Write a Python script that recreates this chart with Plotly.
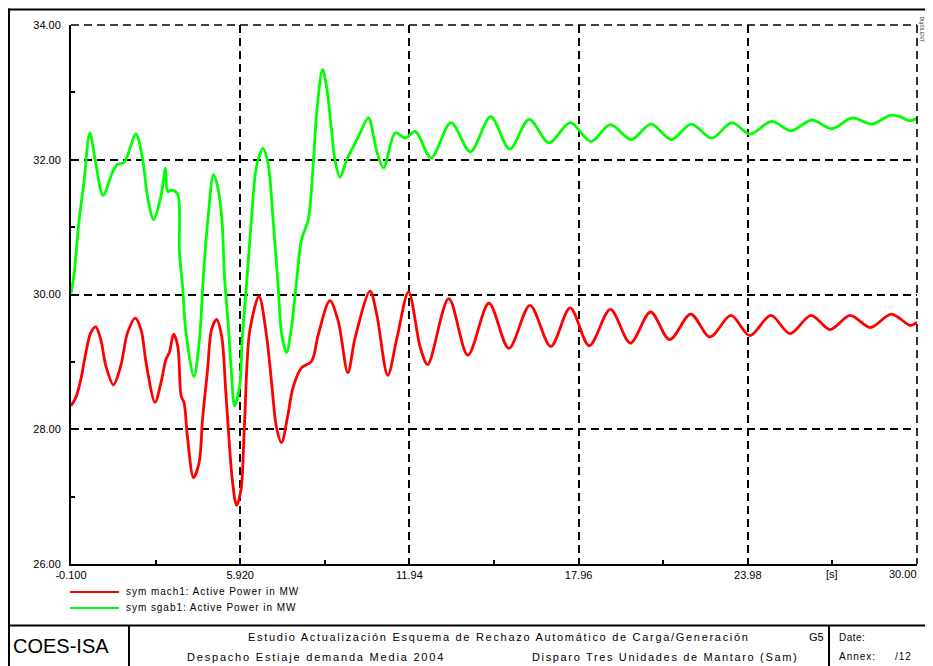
import plotly.graph_objects as go

# ---------------- data ----------------
t_mach1 = [-0.1, 0.07, 0.25, 0.43, 0.60, 0.78, 0.96, 1.14, 1.41, 1.67, 1.91, 2.19, 2.39, 2.59,
           2.89, 3.10, 3.28, 3.40, 3.55, 3.70, 3.82, 3.92, 4.04, 4.26, 4.46, 4.58, 4.76, 4.90,
           5.08, 5.26, 5.41, 5.53, 5.65, 5.79, 5.95, 6.07, 6.26, 6.59, 6.85, 7.03, 7.21, 7.39,
           7.62, 7.80, 8.10, 8.46, 8.70, 9.11, 9.41, 9.75, 10.01, 10.54, 10.78, 11.17, 11.50,
           11.91, 12.33, 12.59, 13.34, 14.02, 14.77, 15.48, 16.23, 16.97, 17.66, 18.34, 19.09,
           19.80, 20.52, 21.20, 21.95, 22.63, 23.38, 24.05, 24.80, 25.48, 26.23, 26.91, 27.62,
           28.34, 29.09, 29.77, 30.0]
p_mach1 = [28.35, 28.47, 28.74, 29.14, 29.43, 29.52, 29.33, 28.94, 28.66, 28.94, 29.43, 29.65,
           29.48, 28.94, 28.40, 28.69, 29.04, 29.14, 29.41, 29.23, 28.49, 28.40, 27.90, 27.28,
           27.51, 28.15, 28.89, 29.48, 29.63, 29.38, 28.54, 27.80, 27.21, 26.87, 27.11, 28.05,
           29.46, 29.97, 29.41, 28.72, 28.03, 27.80, 28.22, 28.62, 28.91, 29.01, 29.41, 29.91,
           29.60, 28.84, 29.36, 30.05, 29.70, 28.80, 29.36, 30.04, 29.21, 28.96, 29.94, 29.10,
           29.87, 29.20, 29.84, 29.23, 29.80, 29.24, 29.78, 29.28, 29.74, 29.33, 29.71, 29.37,
           29.69, 29.39, 29.69, 29.42, 29.69, 29.48, 29.69, 29.51, 29.71, 29.54, 29.59]

t_sgab1 = [-0.1, 0.0, 0.19, 0.36, 0.57, 0.78, 1.04, 1.37, 1.55, 1.79, 2.21, 2.45, 2.62, 2.84,
           3.10, 3.26, 3.34, 3.52, 3.70, 3.76, 3.87, 3.99, 4.27, 4.47, 4.61, 4.77, 4.97, 5.12,
           5.27, 5.36, 5.48, 5.60, 5.72, 5.90, 5.99, 6.14, 6.32, 6.50, 6.73, 6.91, 7.09, 7.27,
           7.39, 7.57, 7.75, 7.93, 8.10, 8.34, 8.52, 8.64, 8.85, 8.99, 9.17, 9.29, 9.47, 9.71,
           9.95, 10.19, 10.48, 10.78, 11.02, 11.44, 11.79, 12.15, 12.71, 13.42, 14.11, 14.83,
           15.51, 16.20, 16.91, 17.66, 18.40, 19.09, 19.83, 20.54, 21.26, 21.97, 22.69, 23.42,
           24.05, 24.83, 25.52, 26.26, 26.97, 27.69, 28.40, 29.05, 29.40, 29.71, 30.0]
p_sgab1 = [30.02, 30.27, 31.11, 31.66, 32.40, 31.95, 31.47, 31.81, 31.93, 31.96, 32.38, 32.00,
           31.46, 31.11, 31.46, 31.87, 31.53, 31.55, 31.48, 30.62, 30.12, 29.44, 28.78, 29.33,
           30.27, 31.11, 31.78, 31.60, 31.11, 30.27, 29.63, 28.89, 28.35, 28.64, 29.33, 30.12,
           31.11, 31.90, 32.17, 31.95, 31.11, 30.12, 29.43, 29.14, 29.53, 30.22, 30.81, 31.11,
           31.95, 32.69, 33.34, 33.09, 32.44, 32.00, 31.74, 32.00, 32.20, 32.40, 32.62, 32.12,
           31.88, 32.40, 32.32, 32.42, 32.03, 32.55, 32.12, 32.64, 32.16, 32.60, 32.25, 32.55,
           32.27, 32.52, 32.30, 32.53, 32.30, 32.53, 32.32, 32.55, 32.38, 32.57, 32.43, 32.59,
           32.46, 32.62, 32.53, 32.66, 32.64, 32.58, 32.61]

series_names = ["sym mach1: Active Power in MW", "sym sgab1: Active Power in MW"]
series_colors = ["#ff0000", "#00ff00"]

x_tick_vals = [-0.1, 5.92, 11.94, 17.96, 23.98, 30.0]
x_tick_text = ["-0.100", "5.920", "11.94", "17.96", "23.98", "30.00"]
x_minor_vals = [2.91, 8.93, 14.95, 20.97, 26.99]
x_unit_label = "[s]"
y_tick_vals = [26, 28, 30, 32, 34]
y_tick_text = ["26.00", "28.00", "30.00", "32.00", "34.00"]
y_minor_vals = [27, 29, 31, 33]

footer_company = "COES-ISA"
footer_title = "Estudio Actualización Esquema de Rechazo Automático de Carga/Generación"
footer_case = "Despacho Estiaje demanda Media 2004"
footer_event = "Disparo Tres Unidades de Mantaro (Sam)"
footer_code = "G5"
footer_date = "Date:"
footer_annex = "Annex: /12"
brand = "DIgSILENT"

# ---------------- layout geometry ----------------
# the page body adds an 8px offset; page pixel p -> figure pixel p - OFF
OFF = 8
W, H = 933 - OFF, 666 - OFF
PLOT_X0, PLOT_X1, PLOT_Y0, PLOT_Y1 = 71, 917, 24.5, 564.5  # page pixels
L = PLOT_X0 - OFF
T = PLOT_Y0 - OFF
R = W - (PLOT_X1 - OFF)
B = H - (PLOT_Y1 - OFF)
PW, PH = W - L - R, H - T - B
FONT = "Liberation Sans, Arial, sans-serif"


def fx(px):
    return (px - OFF - L) / PW


def fy(py):
    return (H - B - (py - OFF)) / PH


def spaced(text, ls, ws=None):
    style = "letter-spacing:%.2fpx" % ls
    if ws is not None:
        style += ";word-spacing:%.2fpx" % ws
    return '<span style="%s">%s</span>' % (style, text)


fig = go.Figure()
for t, p, name, col in [(t_mach1, p_mach1, series_names[0], series_colors[0]),
                        (t_sgab1, p_sgab1, series_names[1], series_colors[1])]:
    fig.add_trace(go.Scatter(x=t, y=p, mode="lines", name=name,
                             line=dict(color=col, width=2.8, shape="spline", smoothing=0.9),
                             showlegend=False))

grid = dict(showgrid=True, gridcolor="black", gridwidth=1.6, griddash="8px,5px",
            zeroline=False, showline=True, linecolor="black", linewidth=2,
            ticks="", tickfont=dict(family=FONT, size=11, color="black"))

# the last x label is drawn separately (shifted left so it stays inside the page)
x_axis_text = x_tick_text[:-1] + [""]
fig.update_xaxes(range=[-0.1, 30.0], tickmode="array", tickvals=x_tick_vals,
                 ticktext=x_axis_text, ticklabelstandoff=0,
                 minor=dict(tickmode="array", tickvals=x_minor_vals, ticks="inside",
                            ticklen=4, tickcolor="black", tickwidth=1.5, showgrid=False),
                 **grid)
fig.update_yaxes(range=[26, 34], tickmode="array", tickvals=y_tick_vals,
                 ticktext=y_tick_text, ticklabelstandoff=6,
                 minor=dict(tickmode="array", tickvals=y_minor_vals, ticks="inside",
                            ticklen=4, tickcolor="black", tickwidth=1.5, showgrid=False),
                 **grid)

shapes = []
dash = dict(color="black", width=1.6, dash="8px,5px")
shapes.append(dict(type="line", xref="paper", yref="paper", x0=0, x1=1, y0=1, y1=1, line=dash))
shapes.append(dict(type="line", xref="paper", yref="paper", x0=1, x1=1, y0=1, y1=0, line=dash))
solid = dict(color="black", width=2)
# page frame
shapes.append(dict(type="line", xref="paper", yref="paper", x0=fx(8), x1=fx(940), y0=fy(9), y1=fy(9), line=solid))
shapes.append(dict(type="line", xref="paper", yref="paper", x0=fx(9), x1=fx(9), y0=fy(8), y1=fy(670), line=solid))
# title block
shapes.append(dict(type="line", xref="paper", yref="paper", x0=fx(8), x1=fx(940), y0=fy(626), y1=fy(626), line=solid))
shapes.append(dict(type="line", xref="paper", yref="paper", x0=fx(129), x1=fx(129), y0=fy(626), y1=fy(670), line=solid))
shapes.append(dict(type="line", xref="paper", yref="paper", x0=fx(829), x1=fx(829), y0=fy(626), y1=fy(670), line=solid))
# legend samples
for i, col in enumerate(series_colors):
    yy = fy(592.5 + 16 * i)
    shapes.append(dict(type="line", xref="paper", yref="paper", x0=fx(70), x1=fx(119),
                       y0=yy, y1=yy, line=dict(color=col, width=2)))

ann = []
for i, name in enumerate(series_names):
    ann.append(dict(x=fx(124), y=fy(592.5 + 16 * i), xref="paper", yref="paper",
                    text=spaced(name, 0.95), showarrow=False,
                    xanchor="left", yanchor="middle",
                    font=dict(family=FONT, size=10, color="black")))
ann.append(dict(x=26.99, y=fy(575), xref="x", yref="paper", text=x_unit_label, showarrow=False,
                xanchor="center", yanchor="middle", font=dict(family=FONT, size=11, color="black")))
ann.append(dict(x=fx(919), y=fy(575), xref="paper", yref="paper", text=x_tick_text[-1],
                showarrow=False, xanchor="right", yanchor="middle",
                font=dict(family=FONT, size=11, color="black")))
ann.append(dict(x=fx(11), y=fy(647), xref="paper", yref="paper", text=footer_company,
                showarrow=False, xanchor="left", yanchor="middle",
                font=dict(family=FONT, size=20, color="black")))
ann.append(dict(x=fx(246), y=fy(638), xref="paper", yref="paper",
                text=spaced(footer_title, 1.7),
                showarrow=False, xanchor="left", yanchor="middle",
                font=dict(family=FONT, size=11, color="black")))
ann.append(dict(x=fx(185), y=fy(657.5), xref="paper", yref="paper",
                text=spaced(footer_case, 1.8),
                showarrow=False, xanchor="left", yanchor="middle",
                font=dict(family=FONT, size=11, color="black")))
ann.append(dict(x=fx(530), y=fy(657.5), xref="paper", yref="paper",
                text=spaced(footer_event, 1.65),
                showarrow=False, xanchor="left", yanchor="middle",
                font=dict(family=FONT, size=11, color="black")))
ann.append(dict(x=fx(807), y=fy(638), xref="paper", yref="paper", text=footer_code,
                showarrow=False, xanchor="left", yanchor="middle",
                font=dict(family=FONT, size=11, color="black")))
ann.append(dict(x=fx(837), y=fy(638), xref="paper", yref="paper", text=spaced(footer_date, 0.5),
                showarrow=False, xanchor="left", yanchor="middle",
                font=dict(family=FONT, size=10, color="black")))
ann.append(dict(x=fx(837), y=fy(657.5), xref="paper", yref="paper",
                text=spaced(footer_annex, 1.0, 15),
                showarrow=False, xanchor="left", yanchor="middle",
                font=dict(family=FONT, size=10, color="black")))
ann.append(dict(x=fx(922), y=fy(28), xref="paper", yref="paper", text=brand,
                showarrow=False, xanchor="center", yanchor="middle", textangle=90,
                font=dict(family=FONT, size=5, color="#333333")))

fig.update_layout(width=W, height=H, margin=dict(l=L, r=R, t=T, b=B, autoexpand=False),
                  paper_bgcolor="white", plot_bgcolor="white", showlegend=False,
                  shapes=shapes, annotations=ann)

fig.write_html("out.html")
